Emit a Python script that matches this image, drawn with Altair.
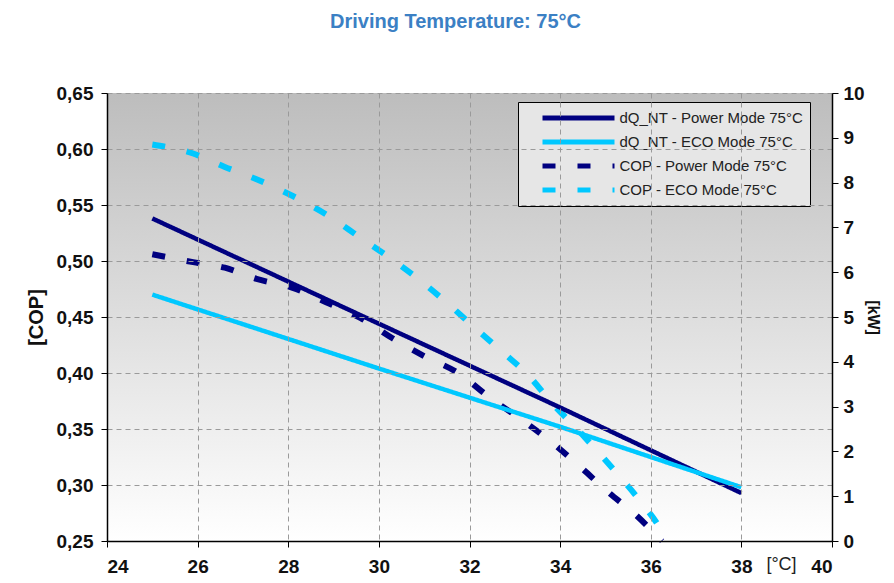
import altair as alt
import pandas as pd

# ---- data ----
S_DQ_POWER = "dQ_NT - Power Mode 75°C"
S_DQ_ECO = "dQ_NT - ECO Mode 75°C"
S_COP_POWER = "COP - Power Mode 75°C"
S_COP_ECO = "COP - ECO Mode 75°C"
series = [S_DQ_POWER, S_DQ_ECO, S_COP_POWER, S_COP_ECO]
colors = ["#000080", "#00c8ff", "#000080", "#00c8ff"]

temp_dq = [25, 30, 34, 38]
dq_power = [7.2, 4.85, 2.98, 1.07]
dq_eco = [5.5, 3.85, 2.55, 1.2]

temp_cop_power = [25.0, 25.9, 26.6, 27.3, 28.1, 28.9, 29.6, 30.3, 31.0, 31.75,
                  32.45, 33.16, 33.82, 34.45, 35.05, 35.65, 36.25]
cop_power = [0.506, 0.499, 0.494, 0.484, 0.476, 0.462, 0.449, 0.431, 0.415, 0.400,
             0.378, 0.358, 0.338, 0.316, 0.294, 0.274, 0.250]

temp_cop_eco = [25.0, 25.9, 26.6, 27.3, 28.1, 28.9, 29.55, 30.2, 30.9, 31.55,
                32.1, 32.75, 33.3, 33.8, 34.35, 34.85, 35.35, 35.8, 36.25, 36.35]
cop_eco = [0.604, 0.596, 0.584, 0.573, 0.558, 0.540, 0.522, 0.504, 0.483, 0.461,
           0.441, 0.418, 0.398, 0.374, 0.351, 0.329, 0.306, 0.284, 0.258, 0.250]

x_ticks = [24, 26, 28, 30, 32, 34, 36, 38, 40]
cop_ticks = [0.25, 0.30, 0.35, 0.40, 0.45, 0.50, 0.55, 0.60, 0.65]
kw_ticks = [0, 1, 2, 3, 4, 5, 6, 7, 8, 9, 10]

title_text = "Driving Temperature: 75°C"

W, H = 725, 448

# ---- tables ----
dq_rows = []
for i, t in enumerate(temp_dq):
    dq_rows.append({"T": t, "v": dq_power[i], "series": S_DQ_POWER, "o": i})
    dq_rows.append({"T": t, "v": dq_eco[i], "series": S_DQ_ECO, "o": i})
dq_df = pd.DataFrame(dq_rows)

cop_rows = []
for i, (t, v) in enumerate(zip(temp_cop_power, cop_power)):
    cop_rows.append({"T": t, "v": v, "series": S_COP_POWER, "o": i})
for i, (t, v) in enumerate(zip(temp_cop_eco, cop_eco)):
    cop_rows.append({"T": t, "v": v, "series": S_COP_ECO, "o": i})
cop_df = pd.DataFrame(cop_rows)

FONT = "Liberation Sans"

color_scale = alt.Scale(domain=series, range=colors)
dash_scale = alt.Scale(domain=series, range=[[1, 0], [1, 0], [13, 22], [13, 22]])


def make_legend():
    # long horizontal line symbol drawn from a custom path with a small symbol size,
    # so that rows stay compact
    return alt.Legend(
        title=None, orient="none", legendX=411, legendY=9,
        fillColor="#e6e6e6", strokeColor="#000000", padding=6,
        labelFont=FONT, labelFontSize=15, labelColor="#222", labelLimit=400,
        symbolType="M-4.8,0H4.8", symbolSize=225, symbolStrokeWidth=5,
        symbolOffset=44.5, labelOffset=31, rowPadding=4,
    )


x_enc = alt.X(
    "T:Q",
    scale=alt.Scale(domain=[24, 40], nice=False, zero=False),
    axis=alt.Axis(
        values=x_ticks, format="d", title="[°C]", titleX=674, titleY=23,
        titleAngle=0, titleBaseline="middle", titleAlign="center",
        titleFontWeight="normal", titleFontSize=18, titleFont=FONT, titleColor="#222",
        grid=True, gridDash=[5, 4], gridColor="#9a9a9a",
        labelFont=FONT, labelFontSize=19, labelFontWeight="bold", labelColor="#111",
        tickColor="#000", tickSize=6, domainColor="#000", domainWidth=1.5,
        labelPadding=10, zindex=1,
    ),
)

bg_grad = alt.LinearGradient(
    gradient="linear",
    stops=[alt.GradientStop(color="#bdbdbd", offset=0),
           alt.GradientStop(color="#ffffff", offset=1)],
    x1=0, x2=0, y1=0, y2=1,
)

bg_layer = alt.Chart(pd.DataFrame({"k": [0]})).mark_rect(fill=bg_grad).encode(
    x=alt.value(0), x2=alt.value(W), y=alt.value(0), y2=alt.value(H)
)

cop_layer = alt.Chart(cop_df).mark_line(strokeWidth=6, interpolate="monotone").encode(
    x=x_enc,
    y=alt.Y(
        "v:Q",
        scale=alt.Scale(domain=[0.25, 0.65], nice=False, zero=False),
        axis=alt.Axis(
            orient="left", values=cop_ticks, title="[COP]",
            labelExpr="replace(format(datum.value, '.2f'), '.', ',')",
            grid=True, gridDash=[5, 4], gridColor="#9a9a9a",
            labelFont=FONT, labelFontSize=19, labelFontWeight="bold", labelColor="#111",
            titleFont=FONT, titleFontSize=20, titleFontWeight="bold", titleColor="#111",
            titlePadding=10,
            tickColor="#000", tickSize=6, domainColor="#000", domainWidth=1.5,
            labelPadding=8, zindex=1,
        ),
    ),
    color=alt.Color("series:N", scale=color_scale, legend=make_legend()),
    strokeDash=alt.StrokeDash("series:N", scale=dash_scale, legend=make_legend()),
    order="o:Q",
)

dq_layer = alt.Chart(dq_df).mark_line(strokeWidth=4.5).encode(
    x=x_enc,
    y=alt.Y(
        "v:Q",
        scale=alt.Scale(domain=[0, 10], nice=False, zero=False),
        axis=alt.Axis(
            orient="right", values=kw_ticks, title="[kW]", grid=False,
            labelFont=FONT, labelFontSize=19, labelFontWeight="bold", labelColor="#111",
            titleFont=FONT, titleFontSize=16, titleFontWeight="bold", titleColor="#111",
            titlePadding=0,
            tickColor="#000", tickSize=6, domainColor="#000", domainWidth=1.5,
            labelPadding=5, zindex=1,
        ),
    ),
    color=alt.Color("series:N", scale=color_scale, legend=make_legend()),
    strokeDash=alt.StrokeDash("series:N", scale=dash_scale, legend=make_legend()),
    order="o:Q",
)

chart = (
    alt.layer(bg_layer, cop_layer, dq_layer)
    .resolve_scale(y="independent")
    .properties(
        width=W, height=H,
        autosize=alt.AutoSizeParams(type="none"),
        padding={"left": 99, "top": 85, "right": 54, "bottom": 34},
        title=alt.TitleParams(
            text=title_text, font=FONT, fontSize=20, fontWeight="bold",
            color="#3b80c4", anchor="middle", frame="group", dx=-14, offset=52,
        ),
    )
    .configure_view(strokeWidth=0)
    .configure(background="white")
)

chart.save("out.html", embed_options={"renderer": "svg", "actions": False})
